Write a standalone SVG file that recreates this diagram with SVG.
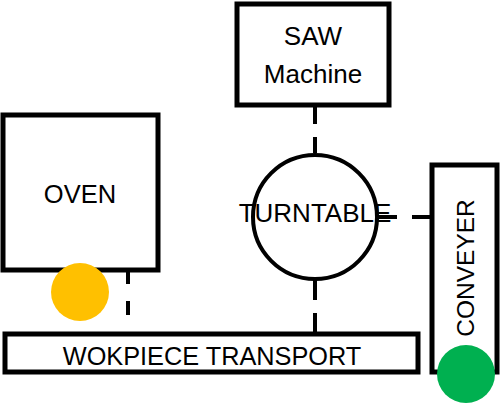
<svg xmlns="http://www.w3.org/2000/svg" width="500" height="403" viewBox="0 0 500 403">
<style>
.box{fill:#fff;stroke:#000;stroke-width:5}
.lbl{font-family:"Liberation Sans",Arial,sans-serif;font-size:26px;fill:#000;text-anchor:middle}
.conn{stroke:#000;stroke-width:4;fill:none}
</style>
<rect width="500" height="403" fill="#fff"/>
<g id="connectors">
<line class="conn" x1="315" y1="105" x2="315" y2="153" stroke-dasharray="19,13"/>
<line class="conn" x1="315" y1="280" x2="315" y2="334" stroke-dasharray="20,13"/>
<line class="conn" x1="378" y1="217" x2="432" y2="217" stroke-dasharray="19,15"/>
<line class="conn" x1="128" y1="270" x2="128" y2="320" stroke-dasharray="14,17" stroke-width="5"/>
</g>
<g id="saw">
<rect class="box" x="237" y="4" width="152" height="101"/>
<text class="lbl" x="313" y="45">SAW</text>
<text class="lbl" x="313" y="83">Machine</text>
</g>
<g id="oven">
<rect class="box" x="3" y="115" width="155" height="155"/>
<text class="lbl" x="80" y="203" style="font-size:25.5px">OVEN</text>
</g>
<g id="oven-indicator">
<circle cx="80" cy="292" r="29" fill="#FFC000"/>
</g>
<g id="turntable">
<circle cx="315" cy="217" r="62" fill="#fff" stroke="#000" stroke-width="4"/>
<text class="lbl" x="315" y="222">TURNTABLE</text>
</g>
<g id="transport">
<rect class="box" x="5" y="334" width="413" height="38"/>
<text class="lbl" x="212" y="365" style="font-size:25.3px">WOKPIECE TRANSPORT</text>
</g>
<g id="conveyer">
<rect class="box" x="432" y="165" width="65" height="207"/>
<text class="lbl" transform="translate(474 268) rotate(-90)" style="font-size:24.5px">CONVEYER</text>
</g>
<g id="conveyer-indicator">
<circle cx="466" cy="374" r="29" fill="#00B050"/>
</g>
</svg>
